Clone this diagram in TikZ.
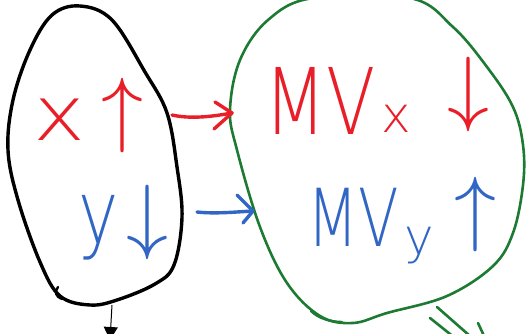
\documentclass[tikz,border=0pt]{standalone}
\usepackage{fontspec}
\IfFontExistsTF{DejaVu Sans ExtraLight}
  {\setmainfont{DejaVu Sans ExtraLight}}
  {\setmainfont{Liberation Sans}}
\usetikzlibrary{arrows.meta}
\definecolor{inkred}{RGB}{232,30,40}
\definecolor{inkblue}{RGB}{50,102,196}
\definecolor{inkgreen}{RGB}{28,122,50}
\tikzset{
  blackblob/.style={draw=black,line width=3.4pt,line cap=round,line join=round},
  greenblob/.style={draw=inkgreen,line width=2.6pt,line cap=round,line join=round},
  redink/.style={draw=inkred,line width=3.4pt,line cap=round,line join=round},
  blueink/.style={draw=inkblue,line width=3.4pt,line cap=round,line join=round},
  greenink/.style={draw=inkgreen,line width=2.6pt,line cap=round},
  redlabel/.style={text=inkred,inner sep=0pt,anchor=base west},
  bluelabel/.style={text=inkblue,inner sep=0pt,anchor=base west},
  big/.style={font=\fontsize{80}{80}\selectfont},
}
\newcommand{\subsz}[2]{\raisebox{#1}{\fontsize{50}{50}\selectfont #2}}
\newcommand{\upar}{\scalebox{8.4}{\normalsize$\uparrow$}}
\newcommand{\dnar}{\scalebox{8.4}{\normalsize$\downarrow$}}
\begin{document}
\begin{tikzpicture}[x=1pt,y=-1pt]
\useasboundingbox (0,0) rectangle (530,334);
\clip (0,0) rectangle (530,334);
% black blob
\draw[blackblob] plot[smooth cycle,tension=0.6] coordinates {
 (80,6) (112,20) (145,72) (167,113) (177,167) (182,217) (174,265)
 (155,284) (117,300) (90,305) (60,296) (40,262) (18,200) (8,150) (13,100)
 (30,50) (52,15)};
\draw[black,line width=2.4pt,line cap=round] (58,287) .. controls (54,292) and (56,297) .. (62,299);
\draw[black,line width=1.2pt,line cap=round] (56,294) -- (76,304);
% green blob
\draw[greenblob] plot[smooth cycle,tension=0.6] coordinates {
 (313,-2) (410,-2) (453,27) (487,67) (513,107) (523,145) (523,185) (513,233)
 (493,266) (447,296) (387,313) (353,323) (320,316) (287,283) (260,227)
 (237,150) (230,110) (240,60) (268,20)};
\draw[inkgreen,line width=2.4pt,line cap=round] (311,311) .. controls (318,318) and (330,322) .. (342,322);
% green double arrow (partly off the page)
\draw[greenink] (437,307) -- (470,336);
\draw[greenink] (430,318) -- (455,338);
\draw[greenink] (478,323) -- (485,338);
% labels
\node[redlabel,big] (xlab) at (33,140) {\scalebox{1.1}[0.95]{x}\hspace{16pt}\raisebox{4pt}{\upar}};
\node[bluelabel,big] (ylab) at (78,243) {\scalebox{0.85}[1.1]{y}\hspace{8pt}\dnar};
\node[redlabel,big] (mvx) at (264,135) {\scalebox{0.9}[1.15]{MV}\hspace{6pt}\subsz{2pt}{x}\hspace{36pt}\raisebox{20pt}{\dnar}};
\node[bluelabel,big] (mvy) at (307,246) {\scalebox{0.74}[1.0]{MV}\hspace{6pt}\subsz{-8pt}{y}\hspace{20pt}\raisebox{10pt}{\upar}};
% connectors
\coordinate (rs) at (172,115);
\coordinate (re) at (232,113);
\coordinate (bs) at (197,212);
\coordinate (be) at (253,211);
\draw[redink] (rs) .. controls (190,119) and (210,117) .. (re);
\draw[redink] (215,102) -- (re) -- (214,129);
\draw[blueink] (bs) .. controls (215,214) and (235,212) .. (be);
\draw[blueink] (237,195) -- (be) -- (243,223);
\coordinate (ds) at (112,305);
\coordinate (de) at (110,340);
\draw[black,line width=1pt,-{Triangle[length=13pt,width=14pt]}] (ds) -- (de);
\end{tikzpicture}
\end{document}
